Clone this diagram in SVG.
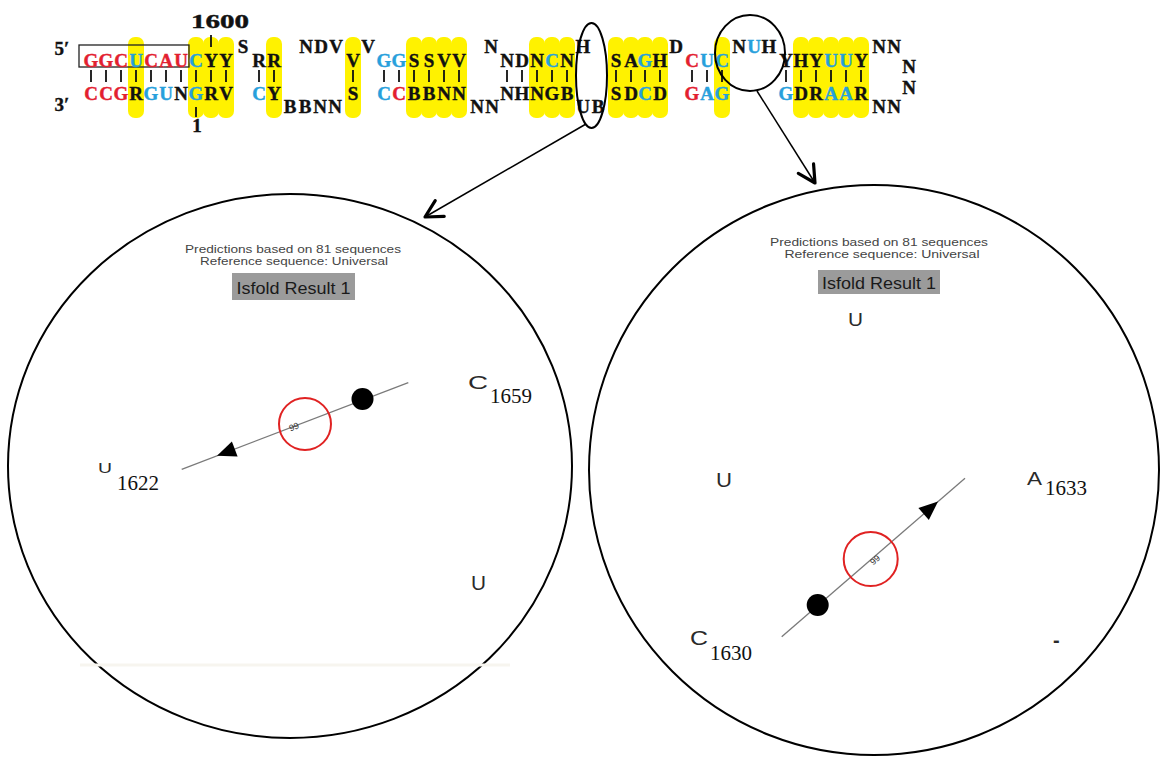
<svg xmlns="http://www.w3.org/2000/svg" width="1160" height="757" viewBox="0 0 1160 757">
  <defs>
    <style>
      .seq { font-family: "Liberation Serif", "Times New Roman", serif; font-weight: bold; font-size: 19px; text-anchor: middle; fill: #111; stroke: #111; stroke-width: 0.4; }
      .r { fill: #e3202f; stroke: #e3202f; }
      .b { fill: #27a0dc; stroke: #27a0dc; }
      .hl { fill: #fff200; }
      .pair { stroke: #111; stroke-width: 1.8; fill: none; }
      .outline { fill: none; stroke: #000; stroke-width: 2; }
      .hdr { font-family: "Liberation Sans", Arial, sans-serif; font-size: 11px; fill: #444; text-anchor: middle; }
      .res { font-family: "Liberation Sans", Arial, sans-serif; font-size: 16px; fill: #1a1a1a; text-anchor: middle; }
      .base { font-family: "Liberation Sans", Arial, sans-serif; fill: #2a2a2a; }
      .num { font-family: "Liberation Serif", "Times New Roman", serif; font-size: 21px; fill: #111; }
      .axis { stroke: #7a7a7a; stroke-width: 1.3; }
      .ring { fill: none; stroke: #e02222; stroke-width: 2; }
      .score { font-family: "Liberation Sans", Arial, sans-serif; font-size: 9px; fill: #333; text-anchor: middle; }
      .conn { stroke: #000; stroke-width: 1.5; fill: none; }
    </style>
    <marker id="open-head" viewBox="0 0 24 24" refX="21" refY="12" markerWidth="24" markerHeight="24" markerUnits="userSpaceOnUse" orient="auto">
      <path d="M4,3 L21,12 L4,21" fill="none" stroke="#000" stroke-width="3.2" stroke-linecap="round" stroke-linejoin="round"/>
    </marker>
  </defs>

  <rect width="1160" height="757" fill="#fff"/>

  <!-- helix strip: highlighted columns -->
  <g id="highlights" class="hl">
    <rect x="128" y="37" width="16" height="81" rx="7"/>
    <rect x="188" y="37" width="16" height="81" rx="7"/>
    <rect x="203" y="37" width="16" height="81" rx="7"/>
    <rect x="218" y="37" width="16" height="81" rx="7"/>
    <rect x="266" y="37" width="16" height="81" rx="7"/>
    <rect x="345" y="37" width="16" height="81" rx="7"/>
    <rect x="406" y="37" width="16" height="81" rx="7"/>
    <rect x="421" y="37" width="16" height="81" rx="7"/>
    <rect x="436" y="37" width="16" height="81" rx="7"/>
    <rect x="451" y="37" width="16" height="81" rx="7"/>
    <rect x="529" y="37" width="16" height="81" rx="7"/>
    <rect x="544" y="37" width="16" height="81" rx="7"/>
    <rect x="559" y="37" width="16" height="81" rx="7"/>
    <rect x="608" y="37" width="16" height="81" rx="7"/>
    <rect x="623" y="37" width="16" height="81" rx="7"/>
    <rect x="637" y="37" width="16" height="81" rx="7"/>
    <rect x="652" y="37" width="16" height="81" rx="7"/>
    <rect x="714" y="37" width="16" height="81" rx="7"/>
    <rect x="793" y="37" width="16" height="81" rx="7"/>
    <rect x="808" y="37" width="16" height="81" rx="7"/>
    <rect x="823" y="37" width="16" height="81" rx="7"/>
    <rect x="838" y="37" width="16" height="81" rx="7"/>
    <rect x="853" y="37" width="16" height="81" rx="7"/>
  </g>

  <!-- helix strip: base-pair ticks -->
  <g id="pairs">
    <path class="pair" d="M91,70V82M106,70V82M121,70V82M136,70V82M151,70V82M166,70V82M181,70V82M196,70V82M211,70V82M226,70V82M259,70V82M274,70V82M353,70V82M384,70V82M399,70V82M414,70V82M429,70V82M444,70V82M459,70V82M507,70V82M522,70V82M537,70V82M552,70V82M567,70V82M616,70V82M631,70V82M645,70V82M660,70V82M692,70V82M707,70V82M722,70V82M786,70V82M801,70V82M816,70V82M831,70V82M846,70V82M861,70V82"/>
    <path class="pair" d="M211,35V47M196,107V117"/>
    <rect x="79" y="45" width="110" height="22" fill="none" stroke="#222" stroke-width="1.3"/>
  </g>

  <!-- helix strip: sequence letters -->
  <g id="sequence">
    <text class="seq" x="62" y="55" font-size="22">5′</text>
    <text class="seq" x="62" y="111" font-size="22">3′</text>
    <text class="seq" x="220" y="28" font-size="21" textLength="58" lengthAdjust="spacingAndGlyphs">1600</text>
    <text class="seq" x="197" y="132" font-size="21">1</text>
    <text class="seq" y="67"><tspan x="91 106 121" class="r">GGC</tspan><tspan x="136" class="b">U</tspan><tspan x="151 166 181" class="r">CAU</tspan><tspan x="196" class="b">C</tspan><tspan x="211 226">YY</tspan><tspan x="259 274">RR</tspan><tspan x="353">V</tspan><tspan x="384 399" class="b">GG</tspan><tspan x="414 429 444 459">SSVV</tspan><tspan x="507 522 537">NDN</tspan><tspan x="552" class="b">C</tspan><tspan x="567">N</tspan><tspan x="616 631">SA</tspan><tspan x="645" class="b">G</tspan><tspan x="660">H</tspan><tspan x="692" class="r">C</tspan><tspan x="707 722" class="b">UC</tspan><tspan x="786 801 816">YHY</tspan><tspan x="831 846" class="b">UU</tspan><tspan x="861">Y</tspan></text>
    <text class="seq" y="53"><tspan x="243">S</tspan><tspan x="306 321 336">NDV</tspan><tspan x="368">V</tspan><tspan x="491">N</tspan><tspan x="583">H</tspan><tspan x="676">D</tspan><tspan x="739">N</tspan><tspan x="754" class="b">U</tspan><tspan x="769">H</tspan><tspan x="879 894">NN</tspan></text>
    <text class="seq" y="100"><tspan x="91 106 121" class="r">CCG</tspan><tspan x="136">R</tspan><tspan x="151 166" class="b">GU</tspan><tspan x="181">N</tspan><tspan x="196" class="b">G</tspan><tspan x="211 226">RV</tspan><tspan x="259" class="b">C</tspan><tspan x="274">Y</tspan><tspan x="353">S</tspan><tspan x="384" class="b">C</tspan><tspan x="399" class="r">C</tspan><tspan x="414 429 444 459">BBNN</tspan><tspan x="507 522 537 552 567">NHNGB</tspan><tspan x="616 631">SD</tspan><tspan x="645" class="b">C</tspan><tspan x="660">D</tspan><tspan x="692" class="r">G</tspan><tspan x="707 722" class="b">AG</tspan><tspan x="786" class="b">G</tspan><tspan x="801 816">DR</tspan><tspan x="831 846" class="b">AA</tspan><tspan x="861">R</tspan></text>
    <text class="seq" y="113"><tspan x="290 305 320 335">BBNN</tspan><tspan x="477 492">NN</tspan><tspan x="583 598">UB</tspan><tspan x="879 894">NN</tspan></text>
    <text class="seq" x="909" y="73">N</text>
    <text class="seq" x="909" y="94">N</text>
  </g>

  <!-- selection marks on the strip -->
  <g id="mark-left">
    <ellipse class="outline" cx="591.5" cy="75.5" rx="15.5" ry="52.5"/>
  </g>
  <g id="mark-right">
    <ellipse class="outline" cx="750" cy="53" rx="35" ry="38"/>
  </g>

  <!-- connectors from the marks to the close-up views -->
  <g id="connectors">
    <line class="conn" x1="586" y1="124" x2="425" y2="217" marker-end="url(#open-head)"/>
    <line class="conn" x1="757" y1="91" x2="815" y2="183" marker-end="url(#open-head)"/>
  </g>

  <!-- close-up view: left -->
  <g id="view-left">
    <ellipse class="outline" cx="290" cy="466" rx="282" ry="272"/>
    <line x1="80" y1="665" x2="510" y2="665" stroke="#f7f5ef" stroke-width="3"/>
    <text class="hdr" x="293" y="253" textLength="216" lengthAdjust="spacingAndGlyphs">Predictions based on 81 sequences</text>
    <text class="hdr" x="294" y="265" textLength="188" lengthAdjust="spacingAndGlyphs">Reference sequence: Universal</text>
    <rect x="232" y="273" width="123" height="27" fill="#9b9b9b"/>
    <text class="res" x="293.5" y="294" textLength="114" lengthAdjust="spacingAndGlyphs">Isfold Result 1</text>
    <line class="axis" x1="181.7" y1="469.3" x2="408.3" y2="382.7"/>
    <polygon points="0,0 -19,-8 -19,8" fill="#000" transform="translate(217,455.8) rotate(159.1)"/>
    <circle cx="362.5" cy="399" r="11" fill="#000"/>
    <circle class="ring" cx="305" cy="424" r="26"/>
    <text class="score" x="0" y="3" transform="translate(294,427) rotate(-20.9)">99</text>
    <text class="base" x="468" y="389" font-size="18" textLength="20" lengthAdjust="spacingAndGlyphs">C</text>
    <text class="num" x="490" y="403">1659</text>
    <text class="base" x="98" y="473" font-size="15" fill="#555" textLength="14" lengthAdjust="spacingAndGlyphs">U</text>
    <text class="num" x="117" y="490">1622</text>
    <text class="base" x="471" y="590" font-size="20" textLength="15" lengthAdjust="spacingAndGlyphs">U</text>
  </g>

  <!-- close-up view: right -->
  <g id="view-right">
    <ellipse class="outline" cx="874" cy="470" rx="285" ry="285"/>
    <text class="hdr" x="879" y="246" textLength="218" lengthAdjust="spacingAndGlyphs">Predictions based on 81 sequences</text>
    <text class="hdr" x="882" y="258" textLength="195" lengthAdjust="spacingAndGlyphs">Reference sequence: Universal</text>
    <rect x="818" y="270" width="122" height="24" fill="#9b9b9b"/>
    <text class="res" x="879" y="289" textLength="114" lengthAdjust="spacingAndGlyphs">Isfold Result 1</text>
    <text class="base" x="848" y="326" font-size="19" textLength="15" lengthAdjust="spacingAndGlyphs">U</text>
    <text class="base" x="716" y="487" font-size="20" textLength="16" lengthAdjust="spacingAndGlyphs">U</text>
    <text class="base" x="1027" y="485" font-size="19" textLength="15" lengthAdjust="spacingAndGlyphs">A</text>
    <text class="num" x="1045" y="495">1633</text>
    <line class="axis" x1="781.7" y1="636.7" x2="965" y2="478.3"/>
    <polygon points="0,0 -19,-8 -19,8" fill="#000" transform="translate(938,501.6) rotate(-40.8)"/>
    <circle cx="817.7" cy="605" r="11" fill="#000"/>
    <circle class="ring" cx="870.7" cy="559" r="27"/>
    <text class="score" x="0" y="3" transform="translate(875,560) rotate(-40.8)">99</text>
    <text class="base" x="690" y="645" font-size="21" textLength="18" lengthAdjust="spacingAndGlyphs">C</text>
    <text class="num" x="710" y="660">1630</text>
    <text class="base" x="1053" y="647" font-size="20" font-weight="bold">-</text>
  </g>
</svg>
